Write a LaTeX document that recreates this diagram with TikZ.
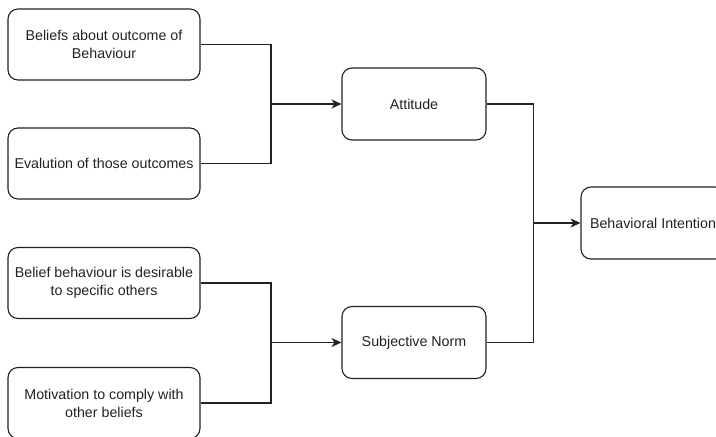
\documentclass[tikz,border=0pt]{standalone}
\usepackage{fontspec}
\setmainfont{Liberation Sans}
\usetikzlibrary{arrows.meta}
\definecolor{ink}{HTML}{222222}
\tikzset{
  box/.style={draw=ink, line width=1.1bp, rounded corners=10bp, fill=white,
    minimum width=192bp, minimum height=71bp, align=center, text=ink,
    font=\fontsize{14.3}{18}\selectfont, inner sep=2bp},
  midbox/.style={box, minimum width=144bp, minimum height=72bp},
  link/.style={draw=ink, line width=1.1bp},
  arr/.style={link, -{Stealth[length=10bp, width=9bp, inset=3bp]}}
}
\begin{document}
\begin{tikzpicture}[x=1bp, y=-1bp]
  \useasboundingbox (0,0) rectangle (716,437);
  % input beliefs
  \node[box] (b1) at (104,44.5) {Beliefs about outcome of\\Behaviour};
  \node[box] (b2) at (104,163.5) {Evalution of those outcomes};
  \node[box] (b3) at (104,283) {Belief behaviour is desirable\\to specific others};
  \node[box] (b4) at (104,403) {Motivation to comply with\\other beliefs};
  % intermediate constructs
  \node[midbox] (att) at (414,104) {Attitude};
  \node[midbox] (sn) at (414,342.5) {Subjective Norm};
  % outcome
  \node[midbox] (bi) at (653,223) {Behavioral Intention};
  % junction points
  \coordinate (j1) at (271,104);
  \coordinate (j2) at (271,342.5);
  \coordinate (j3) at (533.5,223);
  % connectors
  \draw[link] (b1.east) -| (j1);
  \draw[link] (b2.east) -| (j1);
  \draw[arr] (j1) -- (att.west);
  \draw[link] (b3.east) -| (j2);
  \draw[link] (b4.east) -| (j2);
  \draw[arr] (j2) -- (sn.west);
  \draw[link] (att.east) -| (j3);
  \draw[link] (sn.east) -| (j3);
  \draw[arr] (j3) -- (bi.west);
\end{tikzpicture}
\end{document}
